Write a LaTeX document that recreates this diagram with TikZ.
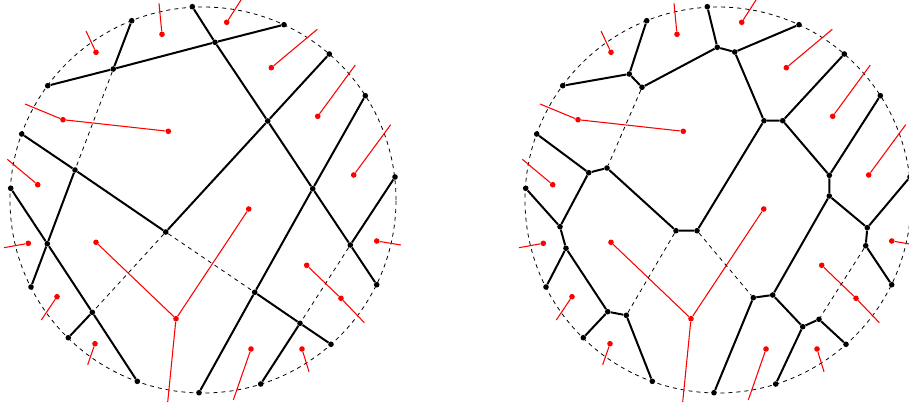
\documentclass[tikz,border=0pt]{standalone}
\begin{document}
\begin{tikzpicture}[x=0.75pt,y=-0.75pt,
  bv/.style={circle,fill=black,inner sep=0pt,minimum size=4.2pt},
  rv/.style={circle,fill=red,inner sep=0pt,minimum size=4.2pt},
  edg/.style={line width=1.5pt,black},
  dedg/.style={line width=0.6pt,black,dash pattern=on 3pt off 3pt},
  redg/.style={line width=0.8pt,red},
  bound/.style={line width=0.6pt,black,dash pattern=on 3pt off 3pt}]
\useasboundingbox (0,0) rectangle (909,410);
% circles
\coordinate (LC) at (203,200);
\coordinate (RC) at (718,200);
\draw[bound] (LC) circle[radius=193*0.75pt];
\draw[bound] (RC) circle[radius=193*0.75pt];

% ---------- red sites (both) ----------
\foreach \p/\dx in {L/0,R/515}{
  \node[rv] (\p s1) at (96+\dx,52.3) {};
  \coordinate (\p e1) at (86+\dx,31);
  \node[rv] (\p s2) at (162+\dx,34.3) {};
  \coordinate (\p e2) at (159+\dx,3.3);
  \node[rv] (\p s3) at (226.7+\dx,22.3) {};
  \coordinate (\p e3) at (241+\dx,0);
  \node[rv] (\p s4) at (271.3+\dx,67.7) {};
  \coordinate (\p e4) at (317.3+\dx,29.3);
  \node[rv] (\p s5) at (317.7+\dx,116.3) {};
  \coordinate (\p e5) at (355.3+\dx,65);
  \node[rv] (\p s6) at (353.7+\dx,175) {};
  \coordinate (\p e6) at (390.7+\dx,124.7);
  \node[rv] (\p s7) at (63+\dx,119.7) {};
  \coordinate (\p e7) at (25+\dx,104);
  \node[rv] (\p s8) at (168.3+\dx,131.3) {};
  \node[rv] (\p s9) at (37.7+\dx,184.7) {};
  \coordinate (\p e9) at (7.3+\dx,159.3);
  \node[rv] (\p s10) at (28.3+\dx,243.3) {};
  \coordinate (\p e10) at (4+\dx,247.7);
  \node[rv] (\p s11) at (96+\dx,242.3) {};
  \node[rv] (\p s12) at (176+\dx,318.7) {};
  \coordinate (\p e12) at (167.7+\dx,402);
  \node[rv] (\p s13) at (248.7+\dx,209) {};
  \node[rv] (\p s14) at (57+\dx,296.7) {};
  \coordinate (\p e14) at (41.3+\dx,320);
  \node[rv] (\p s15) at (95+\dx,343.7) {};
  \coordinate (\p e15) at (87.7+\dx,364.7);
  \node[rv] (\p s16) at (251+\dx,349) {};
  \coordinate (\p e16) at (233.3+\dx,400);
  \node[rv] (\p s17) at (302+\dx,349) {};
  \coordinate (\p e17) at (309+\dx,371.7);
  \node[rv] (\p s18) at (376.7+\dx,241) {};
  \coordinate (\p e18) at (401+\dx,245);
  \node[rv] (\p s19) at (306.7+\dx,265.3) {};
  \node[rv] (\p s20) at (341+\dx,298.3) {};
  \coordinate (\p e20) at (364.3+\dx,322.7);
  \begin{scope}[on background layer/.try]
  \end{scope}
  \draw[redg] (\p s1)--(\p e1) (\p s2)--(\p e2) (\p s3)--(\p e3)
    (\p s4)--(\p e4) (\p s5)--(\p e5) (\p s6)--(\p e6)
    (\p e7)--(\p s7)--(\p s8) (\p s9)--(\p e9) (\p s10)--(\p e10)
    (\p s11)--(\p s12)--(\p e12) (\p s12)--(\p s13)
    (\p s14)--(\p e14) (\p s15)--(\p e15) (\p s16)--(\p e16)
    (\p s17)--(\p e17) (\p s18)--(\p e18) (\p s19)--(\p s20)--(\p e20);
}

% ---------- boundary vertices (both) ----------
\foreach \p/\dx in {l/0,r/515}{
  \node[bv] (\p b1) at (131.7+\dx,20.7) {};
  \node[bv] (\p b2) at (192.3+\dx,6.7) {};
  \node[bv] (\p b3) at (284+\dx,24.7) {};
  \node[bv] (\p b4) at (329.3+\dx,54) {};
  \node[bv] (\p b5) at (365.3+\dx,95.7) {};
  \node[bv] (\p b6) at (395+\dx,177) {};
  \node[bv] (\p b7) at (376.7+\dx,284.7) {};
  \node[bv] (\p b8) at (331+\dx,344.3) {};
  \node[bv] (\p b9) at (260.7+\dx,384) {};
  \node[bv] (\p b10) at (199+\dx,392.7) {};
  \node[bv] (\p b11) at (137.3+\dx,381.3) {};
  \node[bv] (\p b12) at (68.3+\dx,337.7) {};
  \node[bv] (\p b13) at (31+\dx,287) {};
  \node[bv] (\p b14) at (10.7+\dx,188.3) {};
  \node[bv] (\p b15) at (21.7+\dx,134) {};
  \node[bv] (\p b16) at (47.7+\dx,85.7) {};
}

% ---------- left inner vertices ----------
\node[bv] (li1) at (113.3,69) {};
\node[bv] (li2) at (215,42.3) {};
\node[bv] (li3) at (267.7,121) {};
\node[bv] (li4) at (75,170) {};
\node[bv] (li5) at (165.7,232) {};
\node[bv] (li6) at (312.7,188.7) {};
\node[bv] (li7) at (47.3,243.7) {};
\node[bv] (li8) at (350.3,245) {};
\node[bv] (li9) at (254.7,292.3) {};
\node[bv] (li10) at (92.3,312.3) {};
\node[bv] (li11) at (300,323.3) {};

\draw[edg] (lb1)--(li1) (lb16)--(li1)--(li2)--(lb3) (lb2)--(li2)--(li3)--(li6)--(li8)--(lb7)
  (lb4)--(li3)--(li5) (lb5)--(li6)--(li9)--(lb10) (lb6)--(li8) (li11)--(lb9)
  (lb15)--(li4)--(li5) (lb14)--(li7)--(li10)--(lb11) (li4)--(li7)--(lb13)
  (li10)--(lb12) (li9)--(li11)--(lb8);
\draw[dedg] (li1)--(li4) (li5)--(li10) (li5)--(li9) (li8)--(li11);

% ---------- right inner vertices ----------
\node[bv] (ri1) at (629.3,74) {};
\node[bv] (ri2) at (642,87.3) {};
\node[bv] (ri3) at (717.3,47.3) {};
\node[bv] (ri4) at (734.7,52) {};
\node[bv] (ri5) at (764,120.7) {};
\node[bv] (ri6) at (782.7,120.7) {};
\node[bv] (ri7) at (588.7,172.7) {};
\node[bv] (ri8) at (607,168) {};
\node[bv] (ri9) at (676,230.7) {};
\node[bv] (ri10) at (697,230.7) {};
\node[bv] (ri11) at (829.3,175.3) {};
\node[bv] (ri12) at (829.3,196) {};
\node[bv] (ri13) at (560,226.7) {};
\node[bv] (ri14) at (566,248.3) {};
\node[bv] (ri15) at (867.3,227.7) {};
\node[bv] (ri16) at (865.7,245.7) {};
\node[bv] (ri17) at (753.3,297.7) {};
\node[bv] (ri18) at (772.7,295) {};
\node[bv] (ri19) at (607.7,311.7) {};
\node[bv] (ri20) at (626.3,315.3) {};
\node[bv] (ri21) at (802.7,326.7) {};
\node[bv] (ri22) at (819,319.3) {};

\draw[edg] (rb1)--(ri1) (rb16)--(ri1)--(ri2)--(ri3)--(ri4)--(rb3) (rb2)--(ri3)
  (ri4)--(ri5)--(ri6)--(rb4) (ri5)--(ri10) (ri6)--(ri11)--(rb5)
  (ri11)--(ri12)--(ri15)--(rb6) (ri15)--(ri16)--(rb7)
  (ri12)--(ri18)--(ri17)--(rb10) (ri18)--(ri21)--(ri22)--(rb8) (ri21)--(rb9)
  (ri10)--(ri9)--(ri8)--(ri7)--(rb15) (ri7)--(ri13)--(rb14)
  (ri13)--(ri14)--(rb13) (ri14)--(ri19)--(rb12) (ri19)--(ri20)--(rb11);
\draw[dedg] (ri2)--(ri8) (ri9)--(ri20) (ri10)--(ri17) (ri16)--(ri22);
\end{tikzpicture}
\end{document}
